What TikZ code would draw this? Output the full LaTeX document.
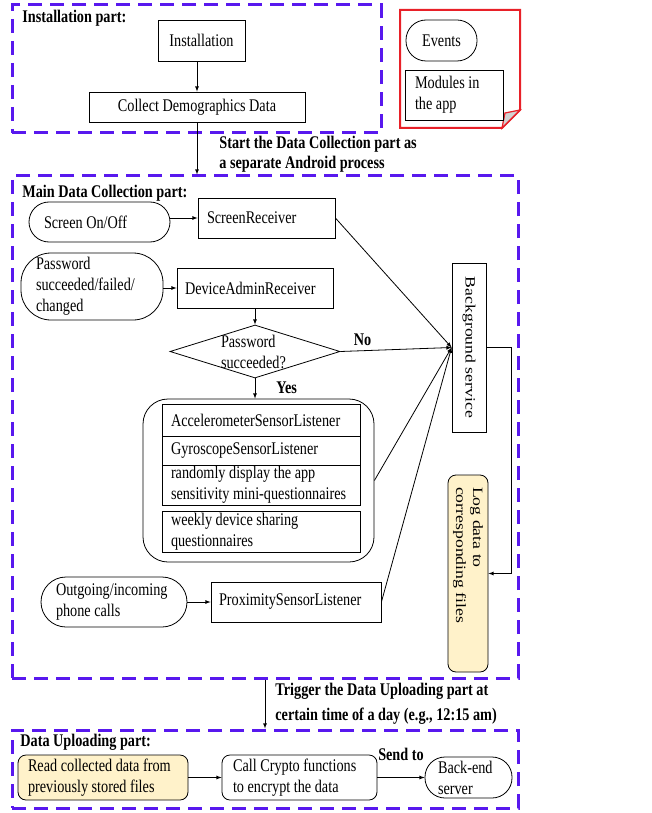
\documentclass[tikz,border=0pt]{standalone}
\usepackage{fontspec}
\setmainfont{Liberation Serif}[FakeStretch=0.8]
\newfontfamily\rotfont{Liberation Serif}[FakeStretch=1.25]
\usetikzlibrary{arrows,shapes.geometric}
\definecolor{partblue}{RGB}{88,24,238}
\definecolor{legendred}{RGB}{232,32,40}
\definecolor{logyellow}{RGB}{255,242,202}

\begin{document}
\begin{tikzpicture}[x=1pt,y=-1pt,->,>=latex,line width=0.8pt,
  every node/.style={inner sep=0pt,font=\fontsize{17.8}{21}\selectfont},
  part/.style={draw=partblue,line width=3pt,dash pattern=on 14pt off 8pt},
  partname/.style={anchor=west,font=\fontsize{17.8}{21}\selectfont\bfseries},
  flag/.style={font=\fontsize{17.8}{21}\selectfont\bfseries},
  module/.style={draw,rectangle,align=flush left},
  event/.style={draw,rectangle,rounded corners=20pt,align=flush left},
  vert/.style={draw,rectangle,rotate=-90,align=flush left,font=\rotfont\fontsize{14.2}{16.8}\selectfont},
  decision/.style={draw,diamond,minimum width=170pt,minimum height=53pt,aspect=3.2}]
  \useasboundingbox (0,0) rectangle (651,813);

  \node[part,minimum width=369pt,minimum height=128pt] (instpart) at (196.5,69) {};
  \node[part,minimum width=506pt,minimum height=502pt] (mainpart) at (265,427) {};
  \node[part,minimum width=506pt,minimum height=78pt] (uppart) at (265,769) {};
  \node[partname] (instname) at (22,18) {Installation part:};
  \node[partname] (mainname) at (22,193) {Main Data Collection part:};
  \node[partname] (upname) at (20,742) {Data Uploading part:};

  \node[module,minimum width=87pt,minimum height=41pt] (install) at (201.5,40.5) {Installation};
  \node[module,minimum width=216pt,minimum height=30pt] (demog) at (197,107) {Collect Demographics Data};
  \draw (install.south -| demog.north) -- (demog.north);
  \draw (demog.south) -- (demog.south |- mainpart.north)
    node[flag,pos=0.61,right=22pt,align=left,font=\fontsize{17.8}{20}\selectfont\bfseries] {Start the Data Collection part as\\a separate Android process};

  \draw[legendred,line width=2pt,-] (400,10) -- (520,10) -- (520,110) -- (502,128) -- (400,128) -- cycle;
  \filldraw[legendred,fill=gray!35,line width=1.2pt,-] (502,128) -- (505,113) -- (520,110) -- cycle;
  \node[event,minimum width=71pt,minimum height=41pt] (events) at (441.5,40.5) {Events};
  \node[module,minimum width=98pt,minimum height=50pt,text width=78pt] (modules) at (454,95) {Modules in\\the app};

  \node[event,minimum width=141pt,minimum height=40pt,text width=111pt] (screen) at (99.5,222) {Screen On/Off};
  \node[module,minimum width=137pt,minimum height=40pt,text width=119pt] (screenrcv) at (266.5,218) {ScreenReceiver};
  \node[event,rounded corners=30pt,minimum width=142pt,minimum height=67pt,text width=112pt] (pwd) at (92,286.5) {Password\\succeeded/failed/\\changed};
  \node[module,minimum width=156pt,minimum height=40pt,text width=140pt] (devadmin) at (255,288) {DeviceAdminReceiver};
  \node[decision,label={[align=flush left,text width=68pt]center:{Password\\succeeded?}}] (pwdok) at (255,351.5) {};

  \node[draw,rounded corners=25pt,minimum width=231pt,minimum height=163pt] (sensors) at (258.5,480.5) {};
  \node[module,minimum width=198pt,minimum height=32pt,text width=180pt] (accel) at (261,420) {AccelerometerSensorListener};
  \node[module,minimum width=198pt,minimum height=29pt,text width=180pt] (gyro) at (261,450.5) {GyroscopeSensorListener};
  \node[module,minimum width=198pt,minimum height=40pt,text width=180pt] (mini) at (261,485) {randomly display the app\\sensitivity mini-questionnaires};
  \node[module,minimum width=198pt,minimum height=41pt,text width=180pt] (weekly) at (261,531.5) {weekly device sharing\\questionnaires};

  \node[event,rounded corners=25pt,minimum width=146pt,minimum height=50pt,text width=116pt] (calls) at (114,602) {Outgoing/incoming\\phone calls};
  \node[module,minimum width=170pt,minimum height=40pt,text width=154pt] (proxim) at (296,602) {ProximitySensorListener};

  \node[vert,minimum width=169pt,minimum height=34pt,align=center] (bgsvc) at (469,347.5) {Background service};
  \node[vert,fill=logyellow,rounded corners=8pt,minimum width=197pt,minimum height=40pt,text width=173pt] (logdata) at (468,573.5) {Log data to\\corresponding files};

  \path (screen.east |- screenrcv.west) edge (screenrcv.west);
  \path (pwd.east |- devadmin.west) edge (devadmin.west);
  \path (devadmin.south) edge (pwdok.north);
  \path (calls) edge (proxim);
  \draw (pwdok.south) -- (pwdok.south |- sensors.north) node[flag,pos=0.45,right=21pt] {Yes};
  \draw (pwdok.east) -- (bgsvc.south) node[flag,pos=0.2,above=5pt] {No};
  \draw (screenrcv.east) -- (bgsvc.south);
  \draw (sensors.east) -- (bgsvc.south);
  \draw (proxim.east) -- (bgsvc.south);
  \draw (bgsvc.north) -- ++(25,0) |- (logdata.north);

  \draw (mainpart.south) -- (uppart.north)
    node[flag,midway,right=10pt,align=left,font=\fontsize{17.8}{25}\selectfont\bfseries] {Trigger the Data Uploading part at\\certain time of a day (e.g., 12:15 am)};

  \node[module,rounded corners=8pt,fill=logyellow,minimum width=170pt,minimum height=45pt,text width=150pt] (readdata) at (103,777.5) {Read collected data from\\previously stored files};
  \node[module,rounded corners=8pt,minimum width=155pt,minimum height=45pt,text width=133pt] (crypto) at (299.5,777.5) {Call Crypto functions\\to encrypt the data};
  \node[event,minimum width=87pt,minimum height=41pt,text width=61pt] (server) at (468.5,777.5) {Back-end\\server};
  \draw (readdata) -- (crypto);
  \draw (crypto) -- (server) node[flag,midway,above=16pt] {Send to};
\end{tikzpicture}
\end{document}
